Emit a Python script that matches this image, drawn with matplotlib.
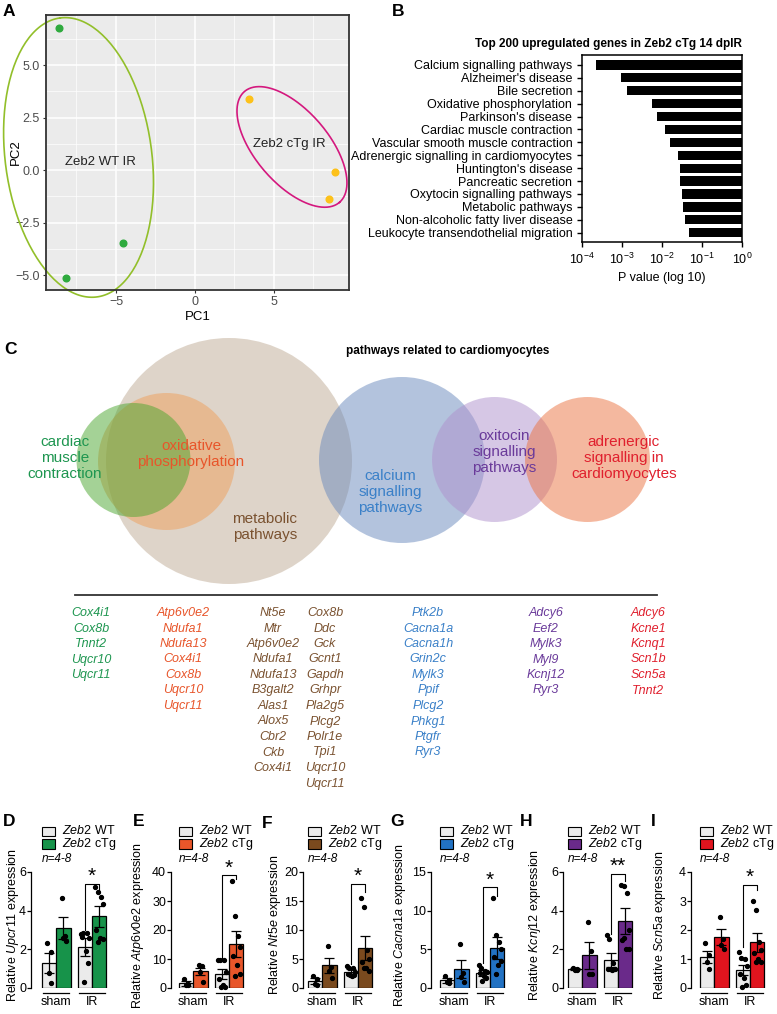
import matplotlib
matplotlib.use('Agg')
import matplotlib.pyplot as plt
import numpy as np
from matplotlib.patches import Circle, Rectangle

plt.rcParams['font.family'] = ['Liberation Sans', 'DejaVu Sans']
plt.rcParams['mathtext.fontset'] = 'custom'
plt.rcParams['mathtext.rm'] = 'Liberation Sans'
plt.rcParams['mathtext.it'] = 'Liberation Sans:italic'
plt.rcParams['mathtext.bf'] = 'Liberation Sans:bold'

W, H = 777, 1014

# ---------------- data ----------------
# A: PCA of IR hearts
pc1_wt = [-8.61, -8.16, -4.56]
pc2_wt = [6.76, -5.14, -3.48]
pc1_tg = [3.42, 8.86, 8.48]
pc2_tg = [3.38, -0.10, -1.38]

# B: KEGG enrichment, top 200 upregulated genes
kegg_terms = ['Calcium signalling pathways', "Alzheimer's disease", 'Bile secretion',
              'Oxidative phosphorylation', "Parkinson's disease", 'Cardiac muscle contraction',
              'Vascular smooth muscle contraction', 'Adrenergic signalling in cardiomyocytes',
              "Huntington's disease", 'Pancreatic secretion', 'Oxytocin signalling pathways',
              'Metabolic pathways', 'Non-alcoholic fatty liver disease',
              'Leukocyte transendothelial migration']
kegg_p = [2.3e-4, 9.6e-4, 1.33e-3, 5.5e-3, 7.7e-3, 0.0119, 0.0155,
          0.025, 0.0275, 0.0287, 0.031, 0.0335, 0.037, 0.048]

# C: pathways related to cardiomyocytes
venn_names = ['cardiac\nmuscle\ncontraction', 'oxidative\nphosphorylation', 'metabolic\npathways',
              'calcium\nsignalling\npathways', 'oxitocin\nsignalling\npathways',
              'adrenergic\nsignalling in\ncardiomyocytes']
venn_text_colors = ['#1E9650', '#E8552A', '#7A5230', '#3A80C8', '#6A3A9A', '#E0202E']
genes_cardiac = ['Cox4i1', 'Cox8b', 'Tnnt2', 'Uqcr10', 'Uqcr11']
genes_oxphos = ['Atp6v0e2', 'Ndufa1', 'Ndufa13', 'Cox4i1', 'Cox8b', 'Uqcr10', 'Uqcr11']
genes_metab_1 = ['Nt5e', 'Mtr', 'Atp6v0e2', 'Ndufa1', 'Ndufa13', 'B3galt2', 'Alas1', 'Alox5',
                 'Cbr2', 'Ckb', 'Cox4i1']
genes_metab_2 = ['Cox8b', 'Ddc', 'Gck', 'Gcnt1', 'Gapdh', 'Grhpr', 'Pla2g5', 'Plcg2', 'Polr1e',
                 'Tpi1', 'Uqcr10', 'Uqcr11']
genes_calcium = ['Ptk2b', 'Cacna1a', 'Cacna1h', 'Grin2c', 'Mylk3', 'Ppif', 'Plcg2', 'Phkg1',
                 'Ptgfr', 'Ryr3']
genes_oxytocin = ['Adcy6', 'Eef2', 'Mylk3', 'Myl9', 'Kcnj12', 'Ryr3']
genes_adrenergic = ['Adcy6', 'Kcne1', 'Kcnq1', 'Scn1b', 'Scn5a', 'Tnnt2']

# D-I: qPCR, order = sham WT, sham cTg, IR WT, IR cTg
qpcr_genes = ['Upcr11', 'Atp6v0e2', 'Nt5e', 'Cacna1a', 'Kcnj12', 'Scn5a']
qpcr_colors = ['#17934A', '#E8562A', '#7A4A1E', '#2272C3', '#6A2A8A', '#E0141E']
qpcr_means = [[1.31, 3.10, 2.12, 3.70],
              [1.60, 5.76, 4.84, 15.2],
              [1.16, 3.90, 2.80, 6.96],
              [1.00, 2.48, 1.96, 5.20],
              [0.99, 1.70, 1.45, 3.46],
              [1.06, 1.75, 0.63, 1.58]]
qpcr_sem = [[0.52, 0.55, 0.47, 0.55],
            [0.90, 1.15, 1.70, 4.60],
            [0.50, 1.30, 0.40, 2.05],
            [0.30, 1.20, 0.43, 1.40],
            [0.06, 0.70, 0.34, 0.68],
            [0.20, 0.28, 0.17, 0.33]]
qpcr_points = [
    [[2.35, 1.85, 0.80, 0.25], [4.65, 2.70, 2.60, 2.45],
     [2.80, 2.85, 2.85, 2.60, 2.65, 1.90, 1.30, 0.30], [5.20, 4.95, 4.70, 4.35, 3.00, 2.60, 2.55, 2.40]],
    [[3.0, 1.5, 1.0, 0.9], [7.8, 7.6, 5.5, 2.2],
     [9.5, 9.5, 9.8, 5.4, 3.2, 1.0, 0.2, 0.3], [37, 25, 18, 14, 11, 8, 5, 4]],
    [[2.0, 1.5, 0.7, 0.5], [7.2, 3.7, 2.9, 1.8],
     [3.8, 3.5, 3.5, 2.8, 2.4, 2.0, 2.2, 2.2], [15.5, 14.0, 6.5, 5.0, 4.5, 3.5, 3.0, 3.5]],
    [[1.5, 1.0, 0.8, 0.7], [5.7, 2.0, 1.4, 0.8],
     [3.0, 2.6, 2.2, 2.1, 2.0, 1.6, 1.3, 0.9], [11.7, 6.8, 6.0, 5.0, 4.0, 3.0, 3.5, 1.8]],
    [[1.05, 1.00, 0.95, 0.95], [3.40, 1.90, 0.75, 0.70],
     [2.75, 2.55, 1.30, 1.00, 1.00, 0.95, 1.00, 1.00], [5.35, 5.30, 4.90, 3.00, 2.50, 2.00, 2.00, 2.60]],
    [[1.55, 1.15, 0.90, 0.65], [2.45, 1.70, 1.50, 1.35],
     [1.25, 1.05, 1.00, 0.75, 0.50, 0.35, 0.10, 0.05], [3.00, 2.70, 1.60, 1.30, 1.20, 1.00, 0.90, 0.90]],
]
qpcr_ymax = [6, 40, 20, 15, 6, 4]
qpcr_ystep = [2, 10, 5, 5, 2, 1]
sig_marks = ['*', '*', '*', '*', '**', '*']
sig_left = [3.0, 10, 4.06, 3.26, 2.81, 1.43]
sig_top = [5.4, 38.8, 17.97, 13.0, 5.88, 3.54]
sig_right = [4.98, 37.5, 16.5, 11.96, 5.54, 3.37]

# ---------------- figure ----------------
fig = plt.figure(figsize=(W / 100, H / 100), dpi=100)


def px_rect(l, t, r, b):
    return [l / W, 1 - b / H, (r - l) / W, (b - t) / H]


# ---- A
axA = fig.add_axes(px_rect(46, 15, 349, 290))
axA.set_facecolor('#EBEBEB')
axA.set_xlim(-9.43, 9.75)
axA.set_ylim(-5.71, 7.38)
axA.set_xticks([-5, 0, 5])
axA.set_yticks([-5, -2.5, 0, 2.5, 5])
axA.set_yticklabels(['\u22125.0', '\u22122.5', '0.0', '2.5', '5.0'])
axA.set_xticks([-7.5, -2.5, 2.5, 7.5], minor=True)
axA.set_yticks([-3.75, -1.25, 1.25, 3.75, 6.25], minor=True)
axA.grid(True, which='major', color='white', lw=1.1)
axA.grid(True, which='minor', color='white', lw=0.5)
axA.set_axisbelow(True)
axA.tick_params(which='minor', length=0)
axA.tick_params(which='major', length=2.5, color='#333333', labelsize=9, labelcolor='#4D4D4D', pad=2)
for s in axA.spines.values():
    s.set_color('#333333')
    s.set_linewidth(1.3)
axA.plot(pc1_wt, pc2_wt, 'o', color='#2FAA3E', ms=4.8, zorder=3)
axA.plot(pc1_tg, pc2_tg, 'o', color='#FDC11A', ms=4.8, zorder=3)
axA.set_xlabel('PC1', fontsize=9.5, labelpad=2)
axA.set_ylabel('PC2', fontsize=9.5)
axA.yaxis.set_label_coords((16 - 46) / 303, 0.5)
axA.yaxis.label.set_verticalalignment('center')


def draw_ellipse(ax, cx, cy, a, b, ang, color):
    # a, b semi-axes in pixels, angle in degrees (screen space)
    sx = ax.bbox.width / (ax.get_xlim()[1] - ax.get_xlim()[0])
    sy = ax.bbox.height / (ax.get_ylim()[1] - ax.get_ylim()[0])
    t = np.linspace(0, 2 * np.pi, 200)
    th = np.deg2rad(ang)
    ex = cx + (a * np.cos(t) * np.cos(th) - b * np.sin(t) * np.sin(th)) / sx
    ey = cy + (a * np.cos(t) * np.sin(th) + b * np.sin(t) * np.cos(th)) / sy
    ax.plot(ex, ey, color=color, lw=1.2, clip_on=False, zorder=2)


draw_ellipse(axA, -7.37, 0.6, 140.7, 73.3, 97.5, '#92BF2A')
draw_ellipse(axA, 6.14, 1.1, 73, 36.5, -49.4, '#D4187E')
axA.text(-6.01, 0.38, 'Zeb2 WT IR', fontsize=9.5, ha='center', va='center', color='#222222')
axA.text(5.95, 1.24, 'Zeb2 cTg IR', fontsize=9.5, ha='center', va='center', color='#222222')

# ---- B
axB = fig.add_axes(px_rect(582, 55, 742, 242))
yB = np.arange(len(kegg_terms))
axB.barh(yB, [1 - p for p in kegg_p], left=kegg_p, height=0.72, color='black')
axB.set_xscale('log')
axB.set_xlim(1e-4, 1)
axB.set_ylim(len(kegg_terms) - 0.28, -0.77)
axB.set_yticks(yB, kegg_terms)
axB.set_xticks([1e-4, 1e-3, 1e-2, 1e-1, 1])
axB.minorticks_off()
axB.tick_params(labelsize=9, length=3.5, width=1)
for s in axB.spines.values():
    s.set_linewidth(1.1)
axB.set_xlabel('P value (log 10)', fontsize=9, labelpad=4)
axB.set_title('Top 200 upregulated genes in Zeb2 cTg 14 dpIR', fontsize=8.5,
              fontweight='bold', loc='right', pad=6)

# ---- D-I
bar_px = 14.3
spine_px = [31, 171, 303, 431, 563, 691]
bar_start_px = [42, 179, 308, 440, 568, 700]
ylab_px = [13, 138, 275, 400, 535, 660]
xs = [0, 1, 2.5, 3.5]
dx4 = [-0.12, 0.1, -0.04, 0.15]
dx8 = [-0.3, -0.1, 0.15, 0.3, -0.2, 0.05, 0.25, -0.05]
for i, gene in enumerate(qpcr_genes):
    xl = -0.5 - (bar_start_px[i] - spine_px[i]) / bar_px
    xr = 4.3
    left = spine_px[i]
    right = left + (xr - xl) * bar_px
    ax = fig.add_axes(px_rect(left, 988 - 116 * 1.2, right, 988))
    ymax = qpcr_ymax[i]
    ax.set_xlim(xl, xr)
    ax.set_ylim(0, ymax * 1.2)
    cols = ['#EBEBEB', qpcr_colors[i], '#EBEBEB', qpcr_colors[i]]
    ax.bar(xs, qpcr_means[i], width=1, color=cols, edgecolor='black', linewidth=0.9, zorder=2)
    ax.errorbar(xs, qpcr_means[i], yerr=qpcr_sem[i], fmt='none', ecolor='black',
                elinewidth=0.9, capsize=3.5, capthick=0.9, zorder=3)
    for x, pts in zip(xs, qpcr_points[i]):
        off = dx4 if len(pts) == 4 else dx8
        ax.plot([x + o for o in off], pts, 'o', color='black', ms=2.8, zorder=4, clip_on=False)
    # significance bracket
    ax.plot([2.5, 2.5, 3.5, 3.5], [sig_left[i], sig_top[i], sig_top[i], sig_right[i]],
            color='black', lw=0.8, zorder=4)
    ax.annotate(sig_marks[i], (3.0, sig_top[i]), xytext=(0, 1.5), textcoords='offset points',
                ha='center', va='baseline', fontsize=15)
    # axes styling
    for k in ['top', 'right', 'bottom']:
        ax.spines[k].set_visible(False)
    ax.spines['left'].set_bounds(0, ymax)
    ax.spines['left'].set_linewidth(0.9)
    ax.set_yticks(np.arange(0, ymax + 0.01, qpcr_ystep[i]))
    ax.set_xticks([0.5, 3.0], ['sham', 'IR'])
    ax.tick_params(axis='x', length=0, pad=6, labelsize=9)
    ax.tick_params(axis='y', length=3, width=0.9, labelsize=9, pad=0.5)
    ylo = -5 * ymax / 116
    for g0 in [0, 2.5]:
        ax.plot([g0 - 0.4, g0 + 1.4], [ylo, ylo], color='black', lw=0.9, clip_on=False)
    ax.set_ylabel(r'Relative $\mathit{' + gene + '}$ expression', fontsize=9)
    ax.yaxis.set_label_coords((ylab_px[i] - left) / (right - left), 0.45)
    ax.yaxis.label.set_verticalalignment('center')
    ax.patch.set_visible(False)

# ---- overlay for C, labels and legends (pixel coordinates)
ov = fig.add_axes([0, 0, 1, 1])
ov.set_xlim(0, W)
ov.set_ylim(H, 0)
ov.axis('off')
ov.patch.set_visible(False)

# Venn circles: (x, y, r, fill colour)
venn_circles = [(229, 461, 123, '#BFAA94'), (166.5, 461.5, 68.5, '#EF9F5A'),
                (133.5, 460, 57, '#4BA62E'), (402, 460, 83, '#6989BD'),
                (494.5, 459.5, 62.5, '#AF91CD'), (587.5, 459.5, 62.5, '#EB7341')]
for cx, cy, r, c in venn_circles:
    ov.add_patch(Circle((cx, cy), r, facecolor=c, edgecolor='none', alpha=0.5))
venn_text_pos = [(65, 458), (191, 454), (265, 527), (390, 492), (504, 452), (624, 458)]
for name, (tx, ty), c in zip(venn_names, venn_text_pos, venn_text_colors):
    ov.text(tx, ty, name, ha='center', va='center', fontsize=11, color=c, linespacing=1.2)
ov.text(448, 351, 'pathways related to cardiomyocytes', ha='center', va='center',
        fontsize=8.5, fontweight='bold')
ov.plot([75, 657], [595, 595], color='#333333', lw=1.3)

gene_cols = [genes_cardiac, genes_oxphos, genes_metab_1, genes_metab_2,
             genes_calcium, genes_oxytocin, genes_adrenergic]
gene_col_x = [91, 183, 273, 325, 428, 546, 648]
gene_col_c = [venn_text_colors[0], venn_text_colors[1], venn_text_colors[2], venn_text_colors[2],
              venn_text_colors[3], venn_text_colors[4], venn_text_colors[5]]
for col, gx, gc in zip(gene_cols, gene_col_x, gene_col_c):
    for j, g in enumerate(col):
        ov.text(gx, 613 + 15.5 * j, g, ha='center', va='center', fontsize=9,
                fontstyle='italic', color=gc)

# panel letters
for letter, lx, ly in [('A', 3, 11), ('B', 392, 11), ('C', 4, 350), ('D', 3, 822),
                       ('E', 133, 822), ('F', 262, 824), ('G', 390, 822), ('H', 520, 822),
                       ('I', 651, 822)]:
    ov.text(lx, ly, letter, ha='left', va='center', fontsize=12.5, fontweight='bold')

# legends for D-I
for i in range(6):
    bx = bar_start_px[i]
    ov.add_patch(Rectangle((bx, 826.5), 12.5, 9.5, facecolor='#EBEBEB', edgecolor='black', lw=0.8))
    ov.add_patch(Rectangle((bx, 839), 12.5, 9.5, facecolor=qpcr_colors[i], edgecolor='black', lw=0.8))
    ov.text(bx + 20, 831, r'$\mathit{Zeb2}$ WT', ha='left', va='center', fontsize=9)
    ov.text(bx + 20, 844, r'$\mathit{Zeb2}$ cTg', ha='left', va='center', fontsize=9)
    ov.text(bx, 859, 'n=4-8', ha='left', va='center', fontsize=8.5, fontstyle='italic')

fig.savefig('out.png', dpi=100, facecolor='white')
